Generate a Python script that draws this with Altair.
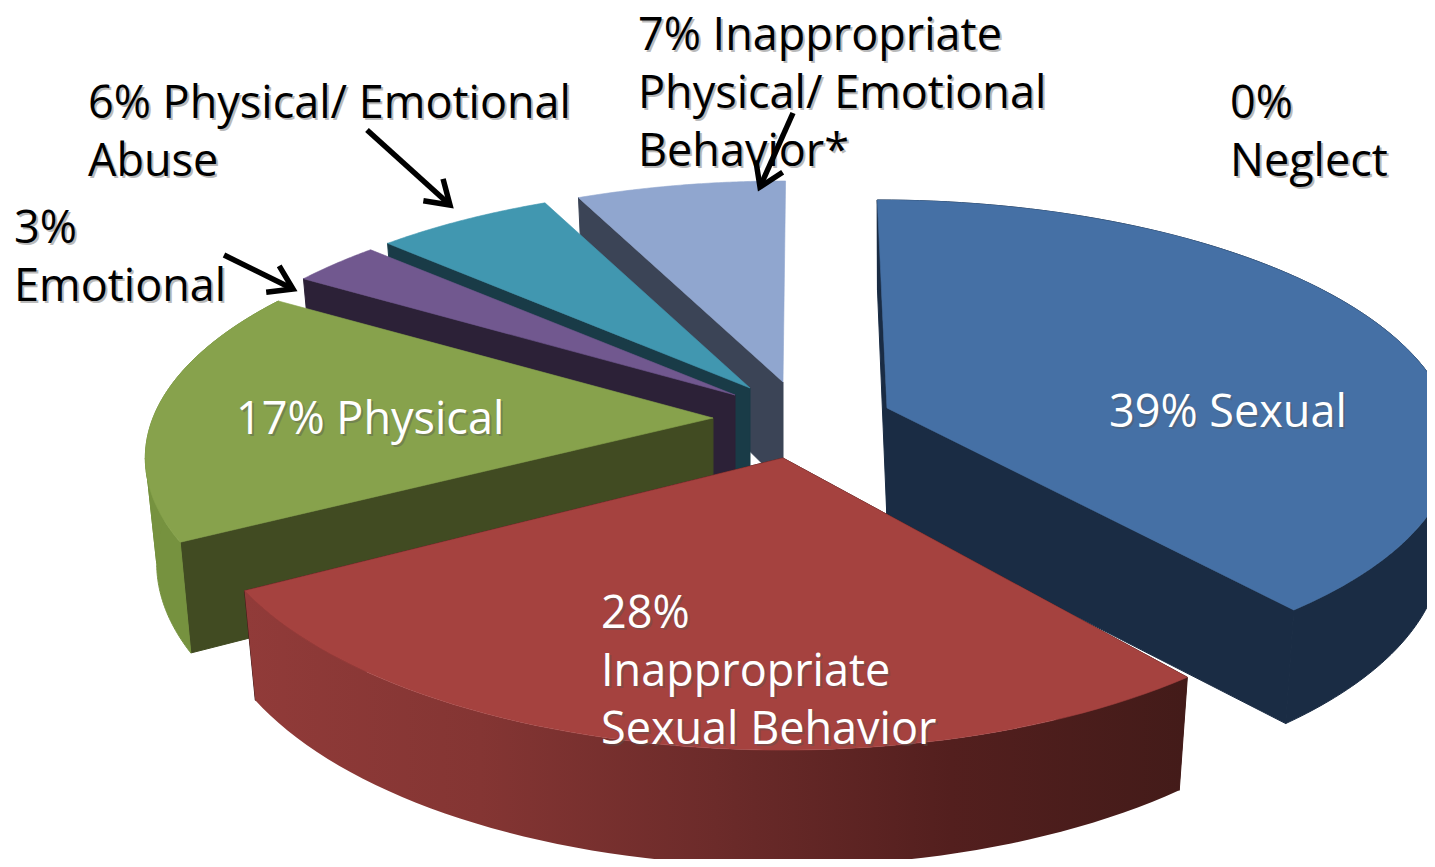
import math
import altair as alt

# ---- data ----
CATEGORIES = ["Sexual", "Inappropriate Sexual Behavior", "Physical", "Emotional",
              "Physical/ Emotional Abuse", "Inappropriate Physical/ Emotional Behavior*", "Neglect"]
SHARES = [39, 28, 17, 3, 6, 7, 0]
TOP_COLORS = ["#4570A5", "#A5423F", "#87A24C", "#71588F", "#4197B0", "#90A6CF", "#E46C0A"]
SIDE_COLORS = ["#1A2C44", "#431B19", "#414B22", "#2C2137", "#193B47", "#3B4456", "#7F3C06"]

LABEL_TEXT = [
    ["7% Inappropriate", "Physical/ Emotional", "Behavior*"],
    ["0%", "Neglect"],
    ["6% Physical/ Emotional", "Abuse"],
    ["3%", "Emotional"],
    ["17% Physical"],
    ["39% Sexual"],
    ["28%", "Inappropriate", "Sexual Behavior"],
]
LABEL_COLOR = ["#000000"] * 4 + ["#FFFFFF"] * 3

# ---- layout ----
FONT = "Open Sans"
FONT_SIZE = 45
LINE = 58
LABEL_POS = [(638, 50), (1230, 118), (88, 118), (14, 243), (236, 434), (1109, 427), (601, 628)]
APEX = [(887, 408), (783, 458), (713, 418), (735, 395), (750, 388), (783, 382), (783, 382)]
# per-slice ellipse axes, perspective, edge tilt and wall height of the 3D pie
ARC_A = [560.0, 584.0, 560.0, 556.0, 553.0, 558.0, 556.0]
ARC_B = [235.5, 262.0, 237.5, 236.0, 235.0, 234.0, 237.5]
ARC_K = [0.132, 0.103, 0.164, 0.164, 0.164, 0.164, 0.164]
SHEAR = [-11.0, 0.0, 0.0, 0.0, 0.0, 3.0, 0.0]
DEPTH = [102.0, 104.0, 102.0, 102.0, 102.0, 102.0, 102.0]
APEX_DROP = [112.0, 104.0, 102.0, 102.0, 102.0, 102.0, 102.0]
ARROWS = [((367, 130), (450, 205)), ((224, 255), (293, 289)), ((793, 113), (760, 187))]
LEAN = 0.02
PAGE = 8
DRAW_ORDER = [5, 4, 3, 2, 0, 1]
PROJ = dict(type="identity", scale=1, translate=[-PAGE, -PAGE])


def top(i, deg):
    apex = APEX[i]
    t = math.radians(deg)
    u, v = math.sin(t), math.cos(t)
    s = 1 / (1 + ARC_K[i] * v)
    return (apex[0] + (ARC_A[i] * u + SHEAR[i] * v) * s, apex[1] - ARC_B[i] * v * s)


def bottom(i, deg):
    apex = APEX[i]
    v = math.cos(math.radians(deg))
    x, y = top(i, deg)
    return (apex[0] + (x - apex[0]) * (1 - LEAN), y + DEPTH[i] / (1 + ARC_K[i] * v))


def arc(fn, i, d0, d1, n=60):
    return [fn(i, d0 + (d1 - d0) * k / n) for k in range(n + 1)]


def feature(points, kind="Polygon"):
    pts = [list(map(float, p)) for p in points]
    if kind == "Polygon":
        geom = {"type": "Polygon", "coordinates": [pts + [pts[0]]]}
    else:
        geom = {"type": "LineString", "coordinates": pts}
    return {"type": "Feature", "properties": {}, "geometry": geom}


def shape(polys, fill, stroke=0.6):
    kw = dict(fill=fill, strokeWidth=stroke)
    if stroke:
        kw["stroke"] = fill
    return alt.Chart(alt.Data(values=[feature(p) for p in polys])).mark_geoshape(**kw).project(**PROJ)


def gradient(stops):
    return alt.LinearGradient(
        gradient="linear", x1=0, x2=1, y1=0, y2=0,
        stops=[alt.GradientStop(offset=o, color=c) for o, c in stops],
    )


OUTER_WALL = {
    0: "#1A2C44",
    1: gradient([(0, "#913B39"), (0.25, "#843533"), (0.5, "#6C2B2A"), (0.75, "#531F1E"), (1, "#431B19")]),
    2: "#76923F",
}

# angles of every slice, clockwise from the top
angles = []
run = 0.0
for s in SHARES:
    d = s * 360.0 / sum(SHARES)
    angles.append((run, run + d))
    run += d

layers = []
for i in DRAW_ORDER:
    d0, d1 = angles[i]
    ap = APEX[i]
    side = SIDE_COLORS[i]
    edges = (d0,) if d0 > 180 else (d0, d1)
    for edge in edges:
        layers.append(shape([[ap, top(i, edge), bottom(i, edge), (ap[0], ap[1] + APEX_DROP[i])]], side, 1.0))
    if d0 < 300:  # the rim of the slices at the back faces away from the viewer
        # the wall's outline turns back where the rim is widest on screen
        turn = math.degrees(math.acos(-ARC_K[i]))
        cuts = [d0] + [c for c in (turn, 360.0 - turn) if d0 < c < d1] + [d1]
        wall = [arc(top, i, a, b) + arc(bottom, i, a, b)[::-1] for a, b in zip(cuts, cuts[1:])]
        fill = OUTER_WALL.get(i, side)
        layers.append(shape(wall, fill, 1.0 if isinstance(fill, str) else 0))
    layers.append(shape([[ap] + arc(top, i, d0, d1)], TOP_COLORS[i]))


def text_layer(s, x, y, color, opacity=1.0):
    return alt.Chart(alt.Data(values=[{"t": s}])).mark_text(
        align="left", baseline="alphabetic", font=FONT, fontSize=FONT_SIZE,
        color=color, opacity=opacity,
    ).encode(text="t:N", x=alt.value(x - PAGE), y=alt.value(y - PAGE))


for lines, (lx, ly), col in zip(LABEL_TEXT, LABEL_POS, LABEL_COLOR):
    for j, s in enumerate(lines):
        yy = ly + j * LINE
        layers.append(text_layer(s, lx + 2, yy + 2, "#555555", 0.4))
        layers.append(text_layer(s, lx, yy, col))


def arrow(p, q, head=27, spread=math.radians(33)):
    ang = math.atan2(q[1] - p[1], q[0] - p[0])
    left = (q[0] - head * math.cos(ang - spread), q[1] - head * math.sin(ang - spread))
    right = (q[0] - head * math.cos(ang + spread), q[1] - head * math.sin(ang + spread))
    feats = [feature([p, q], "Line"), feature([left, q, right], "Line")]
    return alt.Chart(alt.Data(values=feats)).mark_geoshape(
        filled=False, stroke="#000000", strokeWidth=5.5, strokeJoin="miter"
    ).project(**PROJ)


for p, q in ARROWS:
    layers.append(arrow(p, q))

chart = alt.layer(*layers).properties(
    width=1435 - 2 * PAGE, height=867 - 2 * PAGE, padding=0, background="white"
).configure_view(stroke=None)

chart.save("out.html", embed_options={"renderer": "svg", "actions": False})
